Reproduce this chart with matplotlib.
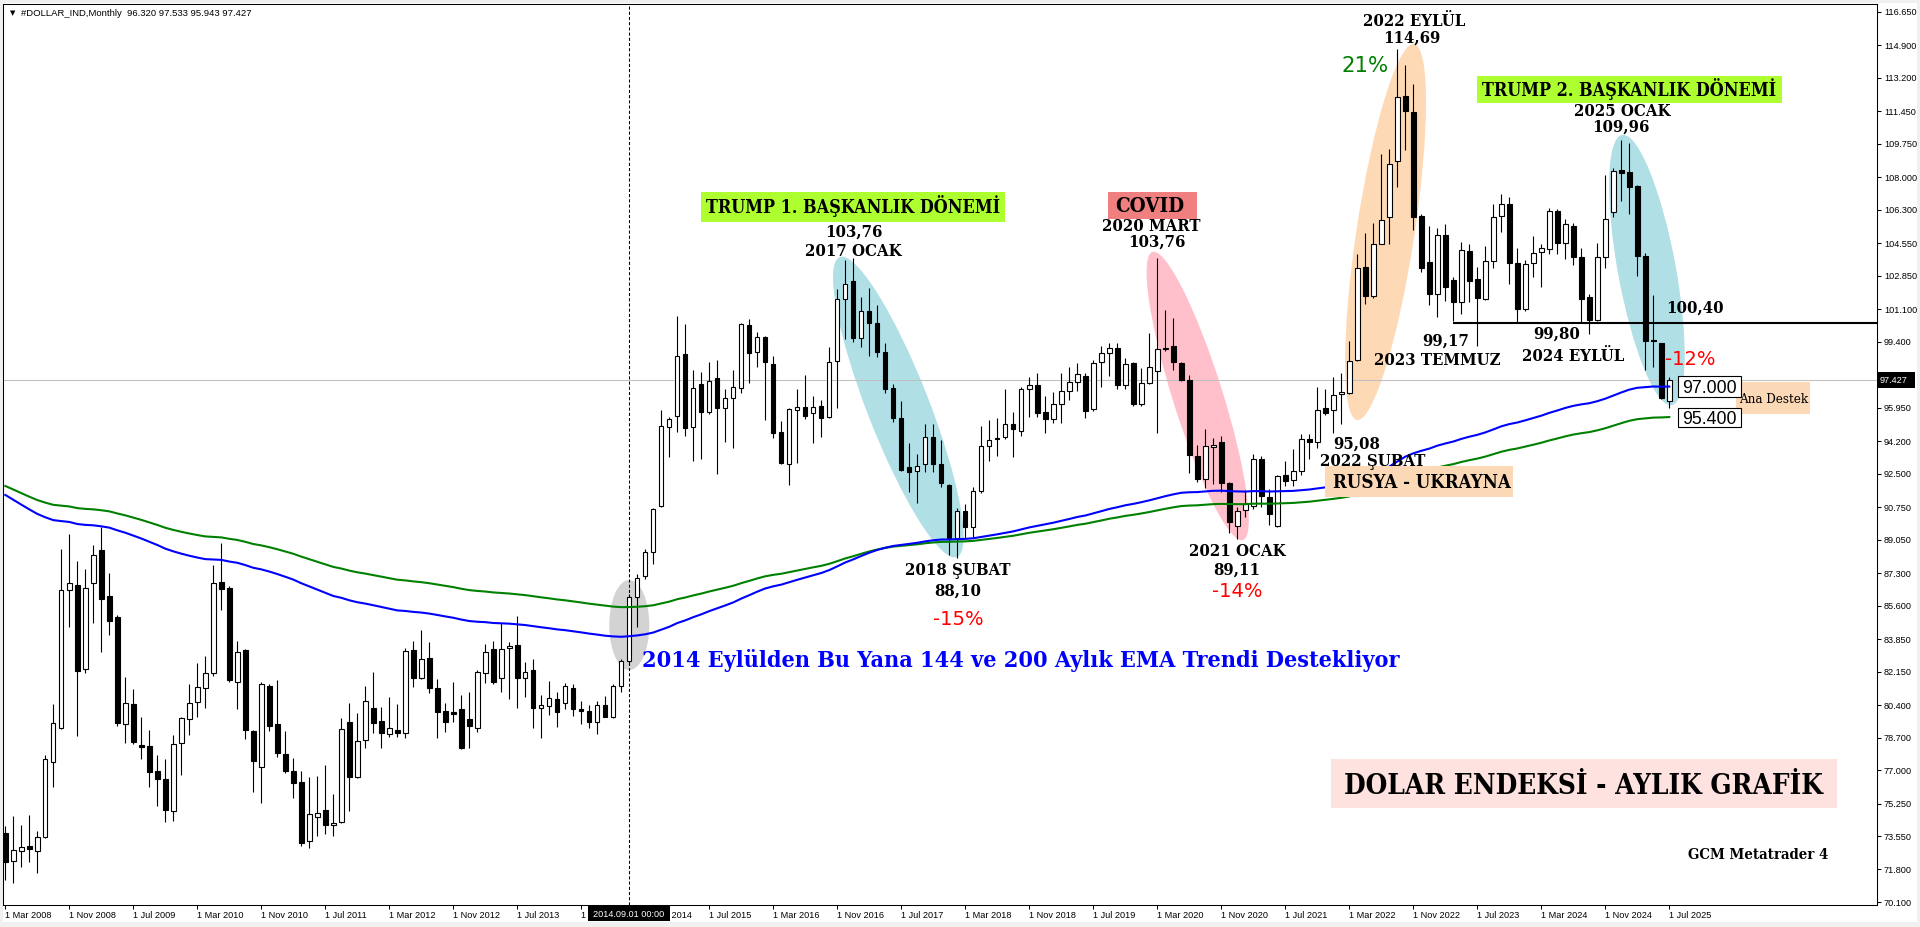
import numpy as np
import pandas as pd
import matplotlib
matplotlib.use("Agg")
import matplotlib.pyplot as plt
from matplotlib.patches import Rectangle, Ellipse
from matplotlib.transforms import Affine2D, IdentityTransform

# ---------------- data (monthly candles, Mar 2008 .. Jul 2025) ----------------
start_month = "2008-03-01"
symbol = "#DOLLAR_IND,Monthly"

opens = [
    73.69, 72.26, 72.78, 73.03, 72.78, 73.48, 77.40, 79.22, 86.40, 86.68,
    82.27, 86.77, 88.51, 86.10, 85.00, 79.39, 80.46, 78.29, 78.25, 76.97,
    76.53, 74.88, 78.40, 79.65, 80.58, 81.27, 82.10, 86.82, 86.50, 81.62,
    83.28, 79.04, 77.18, 81.40, 79.41, 77.82, 76.95, 76.36, 73.27, 74.56,
    74.89, 74.15, 74.27, 79.50, 76.66, 78.57, 80.23, 79.57, 78.89, 79.10,
    78.92, 83.28, 81.80, 82.84, 81.28, 80.11, 80.02, 80.18, 79.65, 79.18,
    82.06, 83.32, 81.80, 83.37, 83.52, 81.83, 82.23, 80.26, 80.37, 80.70,
    80.49, 81.30, 80.20, 80.10, 79.50, 80.40, 79.80, 81.40, 82.70, 86.04,
    87.17, 88.42, 90.83, 94.93, 95.54, 98.76, 94.96, 97.19, 95.75, 97.49,
    95.92, 96.44, 96.97, 100.28, 98.88, 99.63, 98.24, 94.66, 93.01, 95.83,
    95.97, 95.66, 96.04, 95.48, 98.41, 101.62, 102.60, 99.58, 101.03, 100.36,
    98.85, 96.97, 95.40, 92.83, 92.64, 92.99, 94.44, 92.99, 91.91, 89.12,
    90.57, 89.70, 91.61, 93.97, 94.39, 94.40, 95.08, 94.75, 96.91, 97.12,
    95.71, 95.35, 96.13, 96.83, 97.30, 97.63, 95.87, 98.36, 98.80, 99.06,
    97.14, 98.28, 96.17, 97.23, 97.85, 99.03, 99.16, 98.28, 97.38, 93.41,
    92.21, 93.89, 94.17, 92.02, 89.78, 90.60, 90.79, 93.28, 91.28, 89.78,
    92.43, 92.15, 92.66, 94.34, 94.15, 95.93, 95.83, 96.67, 96.73, 98.45,
    103.30, 101.81, 104.54, 105.92, 108.87, 112.27, 111.43, 105.98, 103.56, 101.88,
    104.99, 102.63, 101.50, 104.15, 102.68, 101.64, 103.63, 105.98, 106.59, 103.50,
    101.10, 103.50, 104.08, 104.25, 106.24, 104.55, 105.46, 103.82, 101.73, 100.54,
    103.82, 106.17, 108.38, 108.30, 107.55, 103.89, 99.50, 99.32, 96.320,
]
highs = [
    74.07, 74.60, 74.13, 74.65, 73.81, 77.79, 80.45, 88.56, 89.35, 87.93,
    87.52, 88.77, 89.73, 87.30, 85.11, 81.88, 81.24, 79.79, 79.10, 77.79,
    77.58, 78.84, 79.76, 81.50, 82.58, 82.97, 87.73, 88.86, 86.63, 83.75,
    83.31, 79.10, 81.60, 81.50, 81.71, 79.04, 77.65, 76.95, 76.66, 76.69,
    77.27, 75.75, 79.71, 80.53, 80.00, 81.40, 82.11, 80.28, 80.80, 80.46,
    83.37, 83.75, 84.33, 83.68, 81.75, 80.49, 81.59, 80.93, 81.07, 82.23,
    83.58, 83.75, 84.67, 83.68, 85.06, 82.63, 82.79, 80.93, 81.66, 81.07,
    81.57, 81.50, 80.60, 80.40, 80.60, 80.90, 81.50, 82.80, 86.20, 87.26,
    88.54, 90.69, 95.83, 95.48, 100.77, 100.33, 97.93, 97.82, 98.36, 98.45,
    96.91, 97.93, 100.37, 100.59, 99.93, 99.70, 98.66, 95.26, 95.92, 96.91,
    97.66, 96.56, 96.36, 99.11, 102.14, 103.68, 103.76, 101.73, 102.20, 101.32,
    99.32, 97.19, 96.30, 94.09, 93.53, 95.08, 95.08, 94.26, 91.95, 90.69,
    90.92, 91.79, 95.00, 95.31, 95.40, 96.91, 95.71, 97.05, 97.54, 97.75,
    96.58, 96.76, 97.75, 98.10, 98.27, 97.75, 98.45, 99.18, 99.35, 99.35,
    98.53, 98.32, 98.04, 99.87, 103.76, 101.06, 100.65, 98.35, 97.66, 94.02,
    94.86, 94.39, 94.45, 92.05, 90.75, 91.65, 93.52, 93.41, 91.69, 92.43,
    93.17, 93.78, 94.58, 94.58, 97.01, 96.95, 97.57, 97.76, 99.44, 103.98,
    105.10, 105.60, 109.21, 109.47, 114.69, 113.86, 112.90, 106.07, 105.46, 105.37,
    105.56, 102.77, 104.64, 104.51, 103.30, 104.41, 106.59, 107.11, 106.99, 104.29,
    103.68, 104.93, 104.51, 106.38, 106.33, 105.82, 105.60, 104.29, 101.90, 104.55,
    108.12, 108.51, 109.96, 109.81, 107.60, 104.06, 101.85, 99.35, 97.533,
]
lows = [
    71.25, 71.11, 71.95, 72.21, 71.60, 73.43, 76.10, 79.13, 84.50, 78.80,
    82.06, 84.70, 83.19, 84.06, 79.31, 78.43, 78.36, 77.56, 76.10, 75.14,
    74.27, 74.35, 76.74, 78.83, 79.79, 80.23, 81.92, 85.37, 81.62, 80.19,
    78.62, 75.87, 75.30, 79.06, 77.70, 76.83, 75.56, 73.05, 72.91, 73.57,
    73.64, 73.57, 74.21, 74.88, 76.60, 78.14, 78.92, 78.17, 78.75, 78.75,
    78.69, 81.33, 81.75, 81.01, 78.66, 79.01, 79.53, 78.10, 78.13, 78.97,
    81.57, 81.48, 81.10, 80.70, 80.26, 80.84, 79.18, 78.69, 79.88, 79.27,
    80.19, 79.85, 79.40, 79.20, 78.90, 79.80, 79.70, 81.10, 82.50, 84.50,
    86.98, 87.78, 90.78, 93.39, 94.70, 94.47, 93.18, 93.27, 95.61, 92.49,
    94.18, 93.83, 96.74, 97.23, 98.10, 95.31, 94.35, 92.99, 91.91, 93.04,
    95.34, 94.09, 94.44, 95.40, 95.92, 99.53, 99.41, 99.14, 98.67, 98.59,
    96.70, 95.22, 92.65, 91.56, 90.99, 92.61, 92.61, 91.82, 88.25, 88.10,
    89.12, 89.17, 91.50, 93.18, 93.43, 94.30, 93.39, 94.49, 95.48, 95.45,
    94.65, 95.14, 95.14, 96.36, 96.84, 95.40, 95.80, 97.02, 97.61, 96.91,
    96.91, 96.02, 96.05, 97.20, 94.62, 98.90, 97.94, 97.33, 92.53, 92.06,
    91.74, 91.97, 91.54, 89.41, 89.11, 90.23, 90.66, 90.75, 89.82, 89.73,
    91.87, 91.87, 92.43, 93.27, 93.83, 95.57, 94.62, 95.08, 96.67, 98.41,
    101.36, 101.68, 104.50, 104.54, 107.47, 109.43, 105.25, 103.07, 101.32, 100.71,
    101.55, 100.50, 100.85, 101.50, 99.17, 101.59, 103.24, 105.16, 102.41, 100.40,
    101.03, 102.77, 102.28, 103.99, 103.99, 103.71, 103.42, 100.45, 99.80, 100.50,
    103.24, 105.91, 106.78, 106.07, 102.84, 97.92, 98.10, 96.40, 95.943,
]
closes = [
    72.21, 72.82, 72.99, 72.85, 73.48, 77.56, 79.44, 86.40, 86.78, 82.20,
    86.50, 88.23, 85.96, 84.81, 79.48, 80.49, 78.45, 78.22, 76.92, 76.52,
    74.91, 78.36, 79.70, 80.49, 81.33, 82.06, 86.77, 86.45, 81.71, 83.20,
    79.10, 77.49, 81.50, 79.32, 77.91, 76.97, 76.31, 73.17, 74.70, 74.74,
    74.11, 74.22, 79.13, 76.66, 78.50, 80.60, 79.48, 78.92, 79.18, 78.92,
    83.21, 81.80, 82.79, 81.28, 80.05, 79.53, 79.92, 78.13, 79.32, 82.11,
    83.19, 81.62, 83.32, 83.49, 81.80, 82.15, 80.26, 80.40, 80.75, 80.05,
    81.40, 80.20, 80.10, 79.50, 80.40, 79.80, 81.40, 82.70, 86.07, 87.03,
    88.42, 90.66, 94.99, 95.36, 98.66, 94.87, 96.97, 95.71, 97.35, 95.92,
    96.44, 97.05, 100.33, 98.80, 99.63, 98.33, 94.65, 93.04, 95.89, 95.97,
    95.54, 96.01, 95.40, 98.33, 101.62, 102.41, 99.58, 101.03, 100.40, 98.88,
    96.91, 95.40, 92.70, 92.61, 92.92, 94.44, 92.99, 92.00, 89.12, 90.57,
    89.73, 91.61, 93.97, 94.25, 94.30, 95.08, 94.82, 96.93, 97.12, 95.69,
    95.35, 96.13, 96.84, 97.30, 97.72, 95.76, 98.31, 98.80, 99.06, 97.14,
    98.22, 96.13, 97.23, 98.07, 99.01, 99.08, 98.32, 97.38, 93.46, 92.21,
    93.93, 94.02, 92.02, 89.97, 90.53, 90.94, 93.28, 91.31, 90.38, 92.38,
    92.10, 92.66, 94.30, 94.15, 95.85, 95.66, 96.64, 96.79, 98.41, 103.27,
    101.81, 104.54, 105.75, 108.68, 112.20, 111.49, 105.95, 103.28, 101.88, 104.99,
    102.28, 101.46, 104.20, 102.60, 101.67, 103.63, 105.91, 106.59, 103.50, 101.10,
    103.45, 104.06, 104.29, 106.24, 104.59, 105.54, 103.85, 101.66, 100.54, 103.82,
    105.82, 108.33, 108.25, 107.51, 103.90, 99.46, 99.45, 96.44, 97.427,
]

ema_fast_period = 144
ema_slow_period = 200
ema_fast_seed = 91.39   # value of the 144 EMA at the first visible bar
ema_slow_seed = 91.86   # value of the 200 EMA at the first visible bar

price_ticks = [116.650, 114.900, 113.200, 111.450, 109.750, 108.000, 106.300,
               104.550, 102.850, 101.100, 99.400, 97.650, 95.950, 94.200,
               92.500, 90.750, 89.050, 87.300, 85.600, 83.850, 82.150,
               80.400, 78.700, 77.000, 75.250, 73.550, 71.800, 70.100]
time_tick_every = 8

support_level = 100.40
support_from = "2023-04-01"
marker_month = "2014-09-01"
ema_fast_label = "97.000"
ema_slow_label = "95.400"

months = pd.date_range(start_month, periods=len(closes), freq="MS")
idx = np.arange(len(closes))

# ---------------- layout ----------------
W, H, DPI = 1920, 927, 100
plt.rcParams['font.family'] = ['Liberation Sans', 'DejaVu Sans']
fig = plt.figure(figsize=(W / DPI, H / DPI), dpi=DPI)
fig.patch.set_facecolor('#f0f0f0')
PIX = Affine2D().scale(1, -1).translate(0, H)   # pixel coords, origin top-left

fig.add_artist(Rectangle((3, 3), 1914, 919, transform=PIX, facecolor='white',
                         edgecolor='none', zorder=-5))

AX_L, AX_R, AX_T, AX_B = 3, 1877, 4, 904.5
ax = fig.add_axes([AX_L / W, 1 - AX_B / H, (AX_R - AX_L) / W, (AX_B - AX_T) / H])
ax.set_facecolor('white')

BAR_PX, X0 = 8.0, 5.3
UNIT_PX, YREF_PX, YREF = 19.12, 902.0, 70.1
ax.set_xlim((AX_L - X0) / BAR_PX, (AX_R - X0) / BAR_PX)
ax.set_ylim(YREF - (AX_B - YREF_PX) / UNIT_PX, YREF + (YREF_PX - AX_T) / UNIT_PX)
ax.set_autoscale_on(False)
for s in ax.spines.values():
    s.set_color('black')
    s.set_linewidth(0.75)

# axes ticks
ax.yaxis.tick_right()
ax.set_yticks(price_ticks)
ax.set_yticklabels([f"{v:.3f}" for v in price_ticks])
ax.tick_params(axis='y', direction='out', length=3, width=0.75, pad=2,
               labelsize=6.6, colors='black')
xt = list(range(0, len(closes), time_tick_every))
ax.set_xticks(xt)
ax.set_xticklabels([f"1 {months[i].strftime('%b')} {months[i].year}" for i in xt])
ax.tick_params(axis='x', direction='out', length=3, width=0.75, pad=1.5,
               labelsize=6.6, colors='black')
for lbl in ax.get_xticklabels():
    lbl.set_ha('left')

o = np.array(opens); h = np.array(highs); l = np.array(lows); c = np.array(closes)
up = c >= o


def ellipse_between(p1, p2, width_px, color):
    d1 = ax.transData.transform(p1)
    d2 = ax.transData.transform(p2)
    cen = (d1 + d2) / 2
    length = np.hypot(*(d2 - d1))
    ang = np.degrees(np.arctan2(d2[1] - d1[1], d2[0] - d1[0]))
    ax.add_patch(Ellipse(cen, length, width_px, angle=ang, transform=IdentityTransform(),
                         facecolor=color, edgecolor='none', zorder=1))


ellipse_between((78, 86.94), (78, 82.23), 40, '#d3d3d3')
ellipse_between((104.3, 103.83), (118.95, 88.14), 62, '#b0e0e6')
ellipse_between((143.4, 104.10), (154.7, 89.03), 50, '#ffc0cb')
ellipse_between((168.96, 95.31), (176.1, 114.97), 58, '#fdd9b5')
ellipse_between((202.1, 110.22), (208.3, 96.09), 58, '#b0e0e6')

# current price line & marker line
ax.axhline(closes[-1], color='#c0c0c0', lw=0.75, zorder=2)
marker_idx = int(np.where(months == pd.Timestamp(marker_month))[0][0])
ax.axvline(marker_idx, color='black', lw=0.75, ls=(0, (3, 2)), zorder=2)

# candles
ax.vlines(idx, l, h, color='black', lw=0.8, zorder=3)
ax.bar(idx, np.abs(c - o), bottom=np.minimum(o, c), width=0.55,
       color=np.where(up, 'white', 'black'), edgecolor='black', linewidth=0.8, zorder=4)


def ema(values, seed, period):
    a = 2.0 / (period + 1)
    out = [seed]
    for v in values[1:]:
        out.append(out[-1] + a * (v - out[-1]))
    return np.array(out)


ema_fast = ema(closes, ema_fast_seed, ema_fast_period)
ema_slow = ema(closes, ema_slow_seed, ema_slow_period)
ax.plot(idx, ema_slow, color='#008000', lw=1.5, zorder=5)
ax.plot(idx, ema_fast, color='#0000ff', lw=1.5, zorder=5)

sup_idx = int(np.where(months == pd.Timestamp(support_from))[0][0])
ax.hlines(support_level, sup_idx, ax.get_xlim()[1], color='black', lw=1.5, zorder=5)

# ---------------- annotations ----------------
renderer = fig.canvas.get_renderer()
SERIF = 'DejaVu Serif'


def put(cx, cy, s, w=None, size=12, family=SERIF, color='black',
        ha='center', z=8, parent=None, weight=None, cap=0.36):
    parent = parent or ax
    kw = {}
    if weight is None:
        weight = 'bold' if family == SERIF else 'normal'
    if family == SERIF:
        kw['fontstretch'] = 'condensed'
    t = parent.text(cx, cy, s, transform=PIX, fontsize=size, family=family,
                    color=color, ha=ha, va='baseline', zorder=z, fontweight=weight, **kw)
    if w:
        bw = t.get_window_extent(renderer).width
        t.set_fontsize(size * w / bw)
    t._cy = cy
    t._cap = cap
    em = t.get_fontsize() * DPI / 72
    t.set_y(cy + cap * em)
    return t


def unify(texts):
    fs = float(np.median([t.get_fontsize() for t in texts]))
    for t in texts:
        t.set_fontsize(fs)
        t.set_y(t._cy + t._cap * fs * DPI / 72)


def box(x0, y0, x1, y1, fc, ec='none', lw=0.0, z=6, parent=None):
    r = Rectangle((x0, y0), x1 - x0, y1 - y0, transform=PIX, facecolor=fc,
                  edgecolor=ec, linewidth=lw, zorder=z)
    if parent is None:
        ax.add_patch(r)
    else:
        parent.add_artist(r)
    return r


# header
put(12.5, 12.7, "\u25BC", size=5, family='DejaVu Sans')
put(20.7, 12.7, f"{symbol}  {opens[-1]:.3f} {highs[-1]:.3f} {lows[-1]:.3f} {closes[-1]:.3f}",
    229, size=6.5, family='Liberation Sans', ha='left')

# boxed titles
box(701, 192, 1005, 222, '#adff2f')
box(1477, 76, 1782, 103, '#adff2f')
box(1108, 192, 1197, 219, '#f08080')
box(1325, 466, 1513, 497, '#fcd9b6')
box(1736, 382, 1810, 414, '#fcd9b6')
box(1331, 759, 1837, 808, '#fde2df')
box(1678, 376, 1741, 397, 'white', 'black', 0.8, z=6.5)
box(1678, 408, 1741, 427, 'white', 'black', 0.8, z=6.5)

titles = [put(853.5, 207, "TRUMP 1. BAŞKANLIK DÖNEMİ", 295),
          put(1629.5, 89.5, "TRUMP 2. BAŞKANLIK DÖNEMİ", 295)]
unify(titles)
put(1150, 205, "COVID", 69)

medium = [
    put(853.7, 231, "103,76", 56),
    put(853, 250, "2017 OCAK", 100),
    put(1151, 225.5, "2020 MART", 105),
    put(1157, 241, "103,76", 56),
    put(1414, 19.6, "2022 EYLÜL", 78),
    put(1412, 37, "114,69", 54),
    put(1622, 110, "2025 OCAK", 104),
    put(1621, 126, "109,96", 56),
    put(1695, 307, "100,40", 56),
    put(1446, 340, "99,17", 45),
    put(1437, 359, "2023 TEMMUZ", 126),
    put(1557, 333, "99,80", 49),
    put(1573, 355, "2024 EYLÜL", 103),
    put(1357, 443, "95,08", 50),
    put(1373, 460, "2022 ŞUBAT", 78),
    put(1237.5, 550, "2021 OCAK", 101),
    put(1237, 569, "89,11", 49),
    put(957.5, 569, "2018 ŞUBAT", 111),
    put(957.5, 590, "88,10", 45),
]
unify(medium)
put(1422, 481, "RUSYA - UKRAYNA", 178)
put(1774, 398, "Ana Destek", 69, weight='normal')

put(1365, 64, "21%", 47, family='DejaVu Sans', color='#008000')
pct = [put(1690, 358, "-12%", 48, family='DejaVu Sans', color='#ff0000'),
       put(1237, 590, "-14%", 50, family='DejaVu Sans', color='#ff0000'),
       put(958, 618, "-15%", 50, family='DejaVu Sans', color='#ff0000')]
unify(pct)

put(1709.5, 386.5, ema_fast_label, 54, family='Liberation Sans', z=7)
put(1709.5, 417.5, ema_slow_label, 54, family='Liberation Sans', z=7)

put(642, 659, "2014 Eylülden Bu Yana 144 ve 200 Aylık EMA Trendi Destekliyor", 756,
    color='#0000ff', ha='left')
put(1583, 784, "DOLAR ENDEKSİ - AYLIK GRAFİK", 479)
put(1758, 853.5, "GCM Metatrader 4", 141)

# price label on the axis and date label on the time axis
box(1878, 372, 1915, 387.5, 'black', z=5, parent=fig)
put(1880, 380, f"{closes[-1]:.3f}", size=6.6, family='Liberation Sans', color='white',
    ha='left', parent=fig, z=6)
box(588, 906, 670, 921, 'black', z=5, parent=fig)
put(629, 913.5, f"{months[marker_idx].strftime('%Y.%m.%d')} 00:00", size=6.6,
    family='Liberation Sans', color='white', parent=fig, z=6)

fig.savefig("out.png", dpi=DPI, facecolor=fig.get_facecolor())
